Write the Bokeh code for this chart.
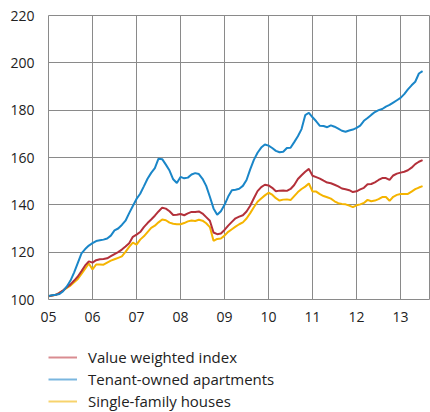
import numpy as np
from bokeh.plotting import figure
from bokeh.layouts import column
from bokeh.models import Legend, LegendItem, FixedTicker
from bokeh.embed import file_html
from bokeh.resources import INLINE

# Monthly index values, Jan 2005 - Jul 2013
start_year = 2005
value_weighted = [
    101.4, 101.7, 102.0, 102.8, 103.9, 105.2, 106.4, 108.0, 109.7, 112.0, 114.4, 116.1,
    115.6, 116.6, 117.0, 117.1, 117.4, 118.3, 119.2, 120.0, 121.1, 122.4, 123.8, 126.5,
    127.4, 128.5, 130.6, 132.3, 133.8, 135.4, 137.2, 138.8, 138.4, 137.3, 135.7, 135.8,
    136.1, 135.6, 136.4, 137.0, 137.0, 137.2, 136.3, 134.8, 133.3, 128.3, 127.6, 127.9,
    129.4, 131.2, 132.8, 134.3, 135.0, 135.6, 137.2, 139.6, 142.8, 145.8, 147.5, 148.5,
    148.2, 147.2, 145.7, 146.0, 146.1, 145.9, 146.7, 148.4, 150.9, 152.5, 154.0, 155.2,
    152.3, 151.7, 151.1, 150.2, 149.4, 149.1, 148.5, 147.8, 146.9, 146.6, 146.2, 145.4,
    145.7, 146.5, 147.2, 148.7, 148.8, 149.5, 150.5, 151.3, 151.3, 150.5, 152.4, 153.2,
    153.6, 154.0, 154.6, 155.7, 157.2, 158.2, 158.9,
]
tenant_owned = [
    101.5, 101.8, 102.0, 102.3, 103.5, 105.5, 108.0, 111.5, 115.5, 119.5, 121.3, 122.8,
    123.8, 124.7, 125.0, 125.3, 125.8, 127.0, 129.2, 130.0, 131.5, 133.3, 136.5, 139.5,
    142.5, 144.7, 147.8, 151.0, 153.5, 155.5, 159.5, 159.3, 157.0, 154.5, 150.8, 149.2,
    151.8, 151.2, 151.5, 152.8, 153.4, 153.0, 151.0, 148.0, 143.4, 138.5, 135.8, 137.3,
    140.0, 143.5, 146.2, 146.4, 146.8, 148.0, 150.5, 155.0, 159.0, 162.0, 164.2, 165.5,
    165.0, 164.0, 162.8, 162.2, 162.4, 164.0, 164.1, 166.5, 169.0, 172.0, 177.9, 178.9,
    177.0, 175.3, 173.4, 173.3, 172.8, 173.6, 173.0, 172.2, 171.3, 170.9, 171.4, 171.8,
    172.5, 173.5, 175.5, 176.7, 178.0, 179.2, 180.0, 180.5, 181.5, 182.2, 183.2, 184.2,
    185.2, 186.8, 188.8, 190.5, 192.0, 195.5, 196.5,
]
single_family = [
    101.4, 101.7, 102.0, 102.8, 103.8, 104.9, 105.9, 107.3, 108.7, 110.8, 113.0, 115.2,
    112.7, 114.8, 114.8, 114.7, 115.6, 116.4, 117.0, 117.6, 118.2, 120.1, 122.2, 124.0,
    123.2, 125.3, 126.7, 128.5, 130.3, 131.2, 132.6, 133.8, 133.5, 132.5, 132.0, 131.8,
    131.8, 132.3, 133.0, 133.4, 133.2, 133.7, 133.3, 132.2, 130.6, 124.8, 125.6, 125.8,
    127.0, 128.6, 129.7, 130.8, 131.8, 132.6, 134.2, 136.5, 139.0, 141.3, 142.7, 144.0,
    145.1, 144.3, 142.8, 141.8, 142.2, 142.3, 142.0, 143.7, 145.4, 146.7, 147.7, 149.0,
    145.6, 145.6, 144.5, 143.7, 143.2, 142.6, 141.5, 140.7, 140.4, 140.2, 139.7, 139.0,
    139.8, 140.2, 140.8, 142.1, 141.5, 141.8, 142.4, 143.3, 143.3, 141.7, 143.4, 144.2,
    144.6, 144.6, 144.6, 145.6, 146.6, 147.3, 147.9,
]
series_names = ["Value weighted index", "Tenant-owned apartments", "Single-family houses"]
series_colors = ["#b3303a", "#1a86c8", "#f5b400"]
legend_colors = ["#d98c91", "#7ab6df", "#f7d36c"]
x_ticks = list(range(2005, 2014))
x_tick_labels = ["05", "06", "07", "08", "09", "10", "11", "12", "13"]
y_ticks = [100, 120, 140, 160, 180, 200, 220]

x = [start_year + i / 12.0 for i in range(len(value_weighted))]

FONT = "Open Sans"
TXT = "#222222"
GRID = "#8a8a8a"

p = figure(width=430, height=330, output_backend="svg", toolbar_location=None,
           x_range=(2005, 2013.68), y_range=(100, 220),
           min_border_left=48, min_border_right=0, min_border_top=15, min_border_bottom=31)
p.background_fill_color = "white"
p.border_fill_color = "white"
p.outline_line_color = GRID
p.outline_line_width = 1

p.xaxis.ticker = FixedTicker(ticks=x_ticks)
p.xaxis.major_label_overrides = {t: l for t, l in zip(x_ticks, x_tick_labels)}
p.yaxis.ticker = FixedTicker(ticks=y_ticks)
for ax in (p.xaxis, p.yaxis):
    ax.axis_line_color = None
    ax.major_tick_line_color = None
    ax.minor_tick_line_color = None
    ax.major_tick_out = 0
    ax.major_tick_in = 0
    ax.major_label_text_font = FONT
    ax.major_label_text_font_size = "14px"
    ax.major_label_text_color = TXT
p.xaxis.major_label_standoff = 12
p.yaxis.major_label_standoff = 14

p.xgrid.ticker = FixedTicker(ticks=x_ticks)
p.ygrid.ticker = FixedTicker(ticks=y_ticks)
for g in (p.xgrid, p.ygrid):
    g.grid_line_color = GRID
    g.grid_line_width = 1

data = [value_weighted, tenant_owned, single_family]
for i in [2, 0, 1]:
    p.line(x, data[i], line_color=series_colors[i], line_width=2)

# legend panel below the chart
p2 = figure(width=430, height=82, output_backend="svg", toolbar_location=None,
            x_range=(0, 1), y_range=(0, 1),
            min_border_left=0, min_border_right=0, min_border_top=0, min_border_bottom=0)
p2.axis.visible = False
p2.grid.visible = False
p2.outline_line_color = None
p2.background_fill_color = "white"
p2.border_fill_color = "white"

items = []
for i, name in enumerate(series_names):
    r = p2.line([0.5], [0.5], line_color=legend_colors[i], line_width=2)
    items.append(LegendItem(label=name, renderers=[r]))

legend = Legend(items=items, location=(0, 1), orientation="vertical",
                margin=0, padding=0, spacing=2, label_height=20, glyph_height=20,
                glyph_width=29, label_standoff=11,
                label_text_font=FONT, label_text_font_size="15px", label_text_color=TXT,
                background_fill_alpha=0, border_line_color=None)
p2.add_layout(legend, "center")

layout = column(p, p2, spacing=0)
open("out.html", "w").write(file_html(layout, INLINE))
